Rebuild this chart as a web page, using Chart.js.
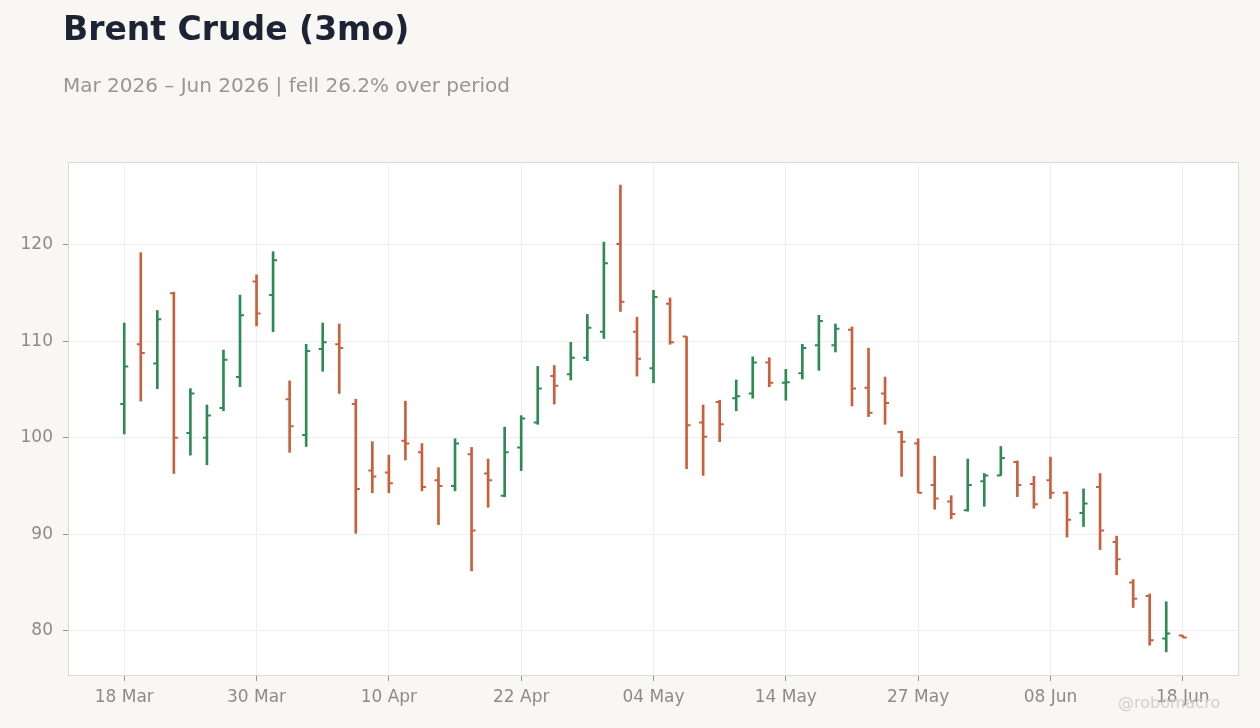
<!DOCTYPE html>
<html>
<head>
<meta charset="utf-8">
<title>Brent Crude (3mo)</title>
<script src="https://cdn.jsdelivr.net/npm/chart.js@4/dist/chart.umd.min.js"></script>
<style>
  html, body { margin: 0; padding: 0; background: #f8f7f4; }
  #wrap { position: relative; width: 1260px; height: 728px; overflow: hidden; }
  #title { position: absolute; left: 63px; top: 12px; font: bold 33px "DejaVu Sans", sans-serif; line-height: 1; color: #1c2434; white-space: nowrap; }
  #subtitle { position: absolute; left: 63px; top: 75px; font: 20px "DejaVu Sans", sans-serif; line-height: 1; color: #9a9590; white-space: nowrap; }
  #credit { position: absolute; left: 1118px; top: 695px; font: 16px "DejaVu Sans", sans-serif; line-height: 1; color: #d3cfca; white-space: nowrap; }
  canvas { position: absolute; left: 0; top: 0; }
</style>
</head>
<body>
<div id="wrap">
  <canvas id="ohlcChart" width="1260" height="728"></canvas>
  <div id="title">Brent Crude (3mo)</div>
  <div id="subtitle">Mar 2026 – Jun 2026 | fell 26.2% over period</div>
  <div id="credit">@robomacro</div>
</div>
<script>
// trading days, 18 Mar – 18 Jun 2026
var dates = [
  '18 Mar', '19 Mar', '20 Mar', '23 Mar', '24 Mar', '25 Mar', '26 Mar', '27 Mar', '30 Mar', '31 Mar',
  '01 Apr', '02 Apr', '06 Apr', '07 Apr', '08 Apr', '09 Apr', '10 Apr', '13 Apr', '14 Apr', '15 Apr',
  '16 Apr', '17 Apr', '20 Apr', '21 Apr', '22 Apr', '23 Apr', '24 Apr', '27 Apr', '28 Apr', '29 Apr',
  '30 Apr', '01 May', '04 May', '05 May', '06 May', '07 May', '08 May', '11 May', '12 May', '13 May',
  '14 May', '15 May', '18 May', '19 May', '20 May', '21 May', '22 May', '26 May', '27 May', '28 May',
  '29 May', '01 Jun', '02 Jun', '03 Jun', '04 Jun', '05 Jun', '08 Jun', '09 Jun', '10 Jun', '11 Jun',
  '12 Jun', '15 Jun', '16 Jun', '17 Jun', '18 Jun'
];

var openPx = [
  103.5, 109.7, 107.7, 115.0, 100.5, 100.0, 103.1, 106.3, 116.2, 114.8,
  104.0, 100.3, 109.2, 109.7, 103.5, 96.6, 96.4, 99.7, 98.5, 95.6,
  95.0, 98.3, 96.3, 94.0, 99.0, 101.6, 106.4, 106.6, 108.3, 111.0,
  120.1, 111.0, 107.2, 113.9, 110.5, 101.6, 103.7, 104.1, 104.6, 107.8,
  105.7, 106.7, 109.6, 109.6, 111.2, 105.2, 104.6, 100.6, 99.4, 95.1,
  93.4, 92.5, 95.5, 96.1, 97.5, 95.2, 95.6, 94.3, 92.2, 94.9,
  89.2, 85.0, 83.6, 79.2, 79.5
];
var highPx = [
  111.9, 119.2, 113.2, 115.1, 105.1, 103.4, 109.1, 114.8, 116.9, 119.3,
  105.9, 109.7, 111.9, 111.8, 104.0, 99.6, 98.2, 103.8, 99.4, 96.9,
  99.9, 99.0, 97.8, 101.1, 102.3, 107.4, 107.5, 109.9, 112.8, 120.3,
  126.2, 112.5, 115.3, 114.5, 110.5, 103.4, 103.9, 106.0, 108.4, 108.3,
  107.1, 109.7, 112.7, 111.8, 111.5, 109.3, 106.3, 100.7, 99.9, 98.1,
  94.0, 97.8, 96.3, 99.1, 97.6, 96.0, 98.0, 94.4, 94.7, 96.3,
  89.8, 85.3, 83.8, 83.0, 79.5
];
var lowPx = [
  100.4, 103.8, 105.1, 96.3, 98.2, 97.2, 102.8, 105.3, 111.6, 111.0,
  98.5, 99.1, 106.9, 104.6, 90.1, 94.3, 94.3, 97.7, 94.5, 91.0,
  94.5, 86.2, 92.8, 93.9, 96.6, 101.4, 103.5, 106.0, 108.0, 110.3,
  113.1, 106.4, 105.7, 109.7, 96.8, 96.1, 99.6, 102.8, 104.1, 105.3,
  103.9, 106.1, 107.0, 108.9, 103.3, 102.2, 101.4, 96.0, 94.3, 92.6,
  91.6, 92.4, 92.9, 96.1, 93.9, 92.7, 93.7, 89.7, 90.8, 88.4,
  85.8, 82.4, 78.5, 77.8, 79.3
];
var closePx = [
  107.4, 108.8, 112.3, 100.0, 104.6, 102.3, 108.1, 112.7, 112.9, 118.4,
  101.2, 109.0, 109.9, 109.3, 94.7, 96.0, 95.3, 99.4, 94.9, 95.0,
  99.4, 90.4, 95.6, 98.5, 102.0, 105.1, 105.4, 108.3, 111.4, 118.1,
  114.1, 108.2, 114.6, 109.9, 101.3, 100.1, 101.4, 104.3, 107.8, 105.7,
  105.75, 109.3, 112.1, 111.3, 105.1, 102.6, 103.6, 99.6, 94.3, 93.7,
  92.1, 95.1, 96.1, 97.9, 95.1, 93.1, 94.3, 91.5, 93.2, 90.4,
  87.4, 83.3, 79.0, 79.7, 79.3
];

var xTicks = [0, 8, 16, 24, 32, 40, 48, 56, 64];
var yTicks = [80, 90, 100, 110, 120];

var upColor = '#2e8a55';
var downColor = '#c9603c';
var tickFont = { family: 'DejaVu Sans, sans-serif', size: 17 };

var barColors = openPx.map((o, i) => closePx[i] >= o ? upColor : downColor);

// white plot area + frame
var plotFrame = {
  id: 'plotFrame',
  beforeDraw: function (chart) {
    var a = chart.chartArea, c = chart.ctx;
    c.save();
    c.fillStyle = '#ffffff';
    c.fillRect(a.left, a.top, a.right - a.left, a.bottom - a.top);
    c.restore();
  },
  beforeDatasetsDraw: function (chart) {
    var a = chart.chartArea, c = chart.ctx;
    c.save();
    c.strokeStyle = '#ddd8d0';
    c.lineWidth = 1;
    c.strokeRect(a.left + 0.5, a.top + 0.5, a.right - a.left - 1, a.bottom - a.top - 1);
    c.restore();
  }
};

// open tick to the left, close tick to the right
var ohlcTicks = {
  id: 'ohlcTicks',
  afterDatasetsDraw: function (chart) {
    var xs = chart.scales.x, ys = chart.scales.y, c = chart.ctx;
    c.save();
    c.lineWidth = 2;
    openPx.forEach(function (o, i) {
      var x = xs.getPixelForValue(i);
      var yo = ys.getPixelForValue(o);
      var yc = ys.getPixelForValue(closePx[i]);
      c.strokeStyle = barColors[i];
      c.beginPath();
      c.moveTo(x - 4, yo);
      c.lineTo(x, yo);
      c.moveTo(x, yc);
      c.lineTo(x + 4, yc);
      c.stroke();
    });
    c.restore();
  }
};

var ctx = document.getElementById('ohlcChart').getContext('2d');
var ohlcChart = new Chart(ctx, {
  type: 'bar',
  data: {
    datasets: [{
      label: 'Brent',
      data: dates.map((d, i) => ({ x: i, y: [lowPx[i], highPx[i]] })),
      backgroundColor: barColors,
      borderWidth: 0,
      barThickness: 2,
      grouped: false
    }]
  },
  plugins: [plotFrame, ohlcTicks],
  options: {
    responsive: false,
    animation: false,
    layout: { padding: { top: 162, right: 21, left: 0, bottom: 0 } },
    plugins: {
      legend: { display: false },
      tooltip: { enabled: false }
    },
    scales: {
      x: {
        type: 'linear',
        min: -3.4,
        max: 67.4,
        offset: false,
        afterBuildTicks: function (s) { s.ticks = xTicks.map(v => ({ value: v })); },
        afterFit: function (s) { s.height = 52; },
        border: { display: false },
        grid: { offset: false, color: '#efefef', tickColor: '#9a958f', tickLength: 5 },
        ticks: {
          autoSkip: false,
          maxRotation: 0,
          padding: 6,
          color: '#8f8a85',
          font: tickFont,
          callback: function (v) { return dates[v]; }
        }
      },
      y: {
        min: 75.3,
        max: 128.6,
        afterBuildTicks: function (s) { s.ticks = yTicks.map(v => ({ value: v })); },
        afterFit: function (s) { s.width = 68; },
        border: { display: false },
        grid: { color: '#efefef', tickColor: '#9a958f', tickLength: 5 },
        ticks: {
          padding: 10,
          color: '#8f8a85',
          font: tickFont
        }
      }
    }
  }
});
</script>
</body>
</html>
